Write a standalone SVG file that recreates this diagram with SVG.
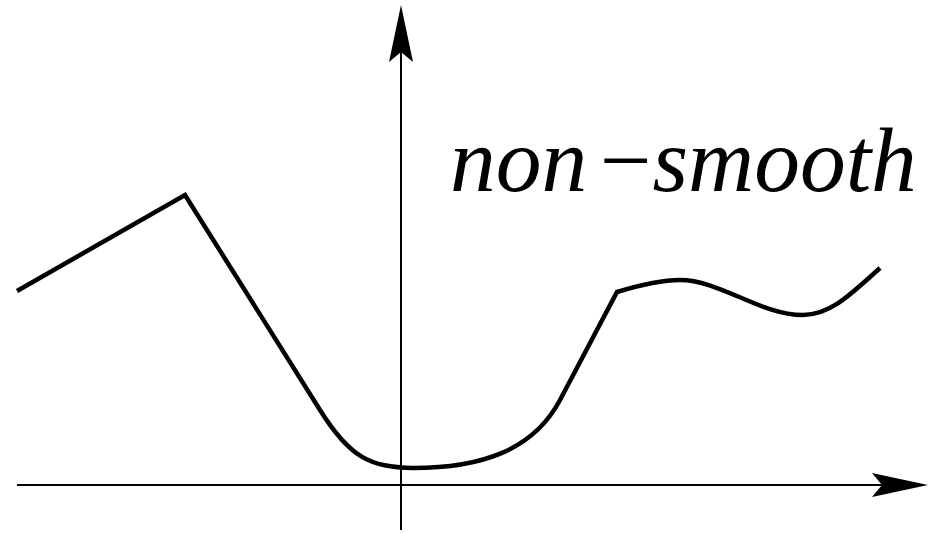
<svg xmlns="http://www.w3.org/2000/svg" width="951" height="533" viewBox="0 0 951 533">
<style>
.axis{stroke:#000;stroke-width:2;fill:none}
.curve{stroke:#000;stroke-width:4.5;fill:none;stroke-linejoin:miter}
.head{fill:#000;stroke:none}
</style>
<rect width="951" height="533" fill="#fff"/>
<g id="axes">
<line class="axis" x1="401" y1="530" x2="401" y2="50"/>
<polygon class="head" points="401,5 413,62 401,52 389,62"/>
<line class="axis" x1="17" y1="485" x2="885" y2="485"/>
<polygon class="head" points="928,485 872,497 882,485 872,473"/>
</g>
<g id="curve">
<path class="curve" d="M17,291 L185,195 L320,410 C350,458 370,467 413,468 C480,468 533,451 560,400 L617,292 C640,285 660,280 680,280 C720,280 760,315 803,315 C830,315 850,295 880,268"/>
</g>
<g id="label" transform="translate(450,191) scale(1.5)">
<text x="0" y="0" font-family="Times New Roman" font-style="italic" font-size="61" fill="#000">non</text>
<text x="96" y="0" font-family="Times New Roman" font-style="italic" font-size="61" fill="#000">−</text>
<text x="135" y="0" font-family="Times New Roman" font-style="italic" font-size="61" fill="#000">smooth</text>
</g>
</svg>
